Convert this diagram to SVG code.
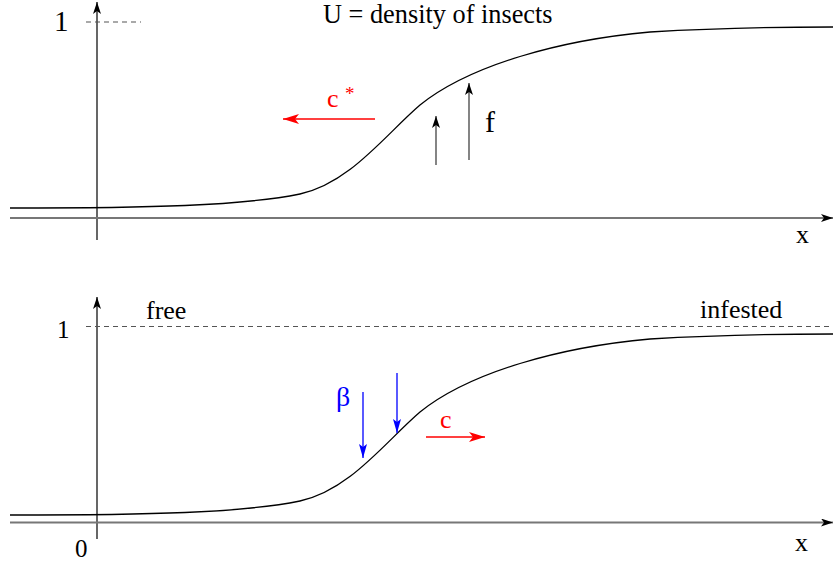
<svg xmlns="http://www.w3.org/2000/svg" width="833" height="566" viewBox="0 0 833 566">
<style>
.lbl{font-family:"Liberation Serif","Times New Roman",serif}
</style>
<defs>
<marker id="ahk" viewBox="0 0 12 8" refX="12" refY="4" markerWidth="12" markerHeight="8" markerUnits="userSpaceOnUse" orient="auto"><path d="M0,0 L12,4 L0,8 L3,4 Z" fill="#000"/></marker>
<marker id="ahr" viewBox="0 0 16 10" refX="16" refY="5" markerWidth="16" markerHeight="10" markerUnits="userSpaceOnUse" orient="auto"><path d="M0,0 L16,5 L0,10 L4,5 Z" fill="#ff0000"/></marker>
<marker id="ahb" viewBox="0 0 8 14" refX="4" refY="14" markerWidth="8" markerHeight="14" markerUnits="userSpaceOnUse" orient="0"><path d="M0,0 L4,14 L8,0 L4,3 Z" fill="#0000ff"/></marker>
</defs>
<g id="connectors" fill="none">
<line x1="97" y1="240" x2="97" y2="2" stroke="#000" stroke-width="1.2" marker-end="url(#ahk)"/>
<line x1="10" y1="218" x2="833" y2="218" stroke="#777" stroke-width="2" marker-end="url(#ahk)"/>
<line x1="86" y1="22" x2="141" y2="22" stroke="#555" stroke-width="1.2" stroke-dasharray="5,4"/>
<path d="M10,208 C150,208 240,206 300,194 C350,183 385,135 420,105 C470,65 560,40 650,32 C720,28 780,27 833,27" stroke="#000" stroke-width="1.3"/>
<line x1="375" y1="119" x2="283" y2="119" stroke="#ff0000" stroke-width="1.5" marker-end="url(#ahr)"/>
<line x1="436" y1="165" x2="436" y2="116" stroke="#333" stroke-width="1.2" marker-end="url(#ahk)"/>
<line x1="469" y1="160" x2="469" y2="83" stroke="#333" stroke-width="1.2" marker-end="url(#ahk)"/>
<line x1="97" y1="539" x2="97" y2="297" stroke="#000" stroke-width="1.2" marker-end="url(#ahk)"/>
<line x1="10" y1="522.5" x2="833" y2="522.5" stroke="#777" stroke-width="2" marker-end="url(#ahk)"/>
<line x1="86" y1="326.5" x2="833" y2="326.5" stroke="#555" stroke-width="1.2" stroke-dasharray="5,4"/>
<path d="M10,515 C150,515 240,513 300,501 C350,490 385,442 420,412 C470,372 560,347 650,339 C720,335 780,334 833,334" stroke="#000" stroke-width="1.3"/>
<line x1="363" y1="392" x2="363" y2="458" stroke="#0000ff" stroke-width="1.3" marker-end="url(#ahb)"/>
<line x1="397" y1="373" x2="397" y2="433" stroke="#0000ff" stroke-width="1.3" marker-end="url(#ahb)"/>
<line x1="426" y1="437" x2="485" y2="437" stroke="#ff0000" stroke-width="1.5" marker-end="url(#ahr)"/>
</g>
<g id="labels" fill="#000">
<text class="lbl" x="54" y="31" font-size="29">1</text>
<text class="lbl" x="323" y="23" font-size="26.3">U = density of insects</text>
<text class="lbl" x="327" y="107" font-size="26" fill="#ff0000">c</text>
<text class="lbl" x="345" y="100" font-size="19" fill="#ff0000">*</text>
<text class="lbl" x="485" y="132" font-size="30">f</text>
<text class="lbl" x="796" y="243" font-size="26">x</text>
<text class="lbl" x="57" y="338" font-size="25">1</text>
<text class="lbl" x="146" y="319" font-size="26">free</text>
<text class="lbl" x="700" y="318" font-size="26">infested</text>
<text class="lbl" x="75" y="557" font-size="25">0</text>
<text class="lbl" x="795" y="551" font-size="26">x</text>
<text class="lbl" x="336" y="406" font-size="28" fill="#0000ff">β</text>
<text class="lbl" x="440" y="428" font-size="26" fill="#ff0000">c</text>
</g>
</svg>
